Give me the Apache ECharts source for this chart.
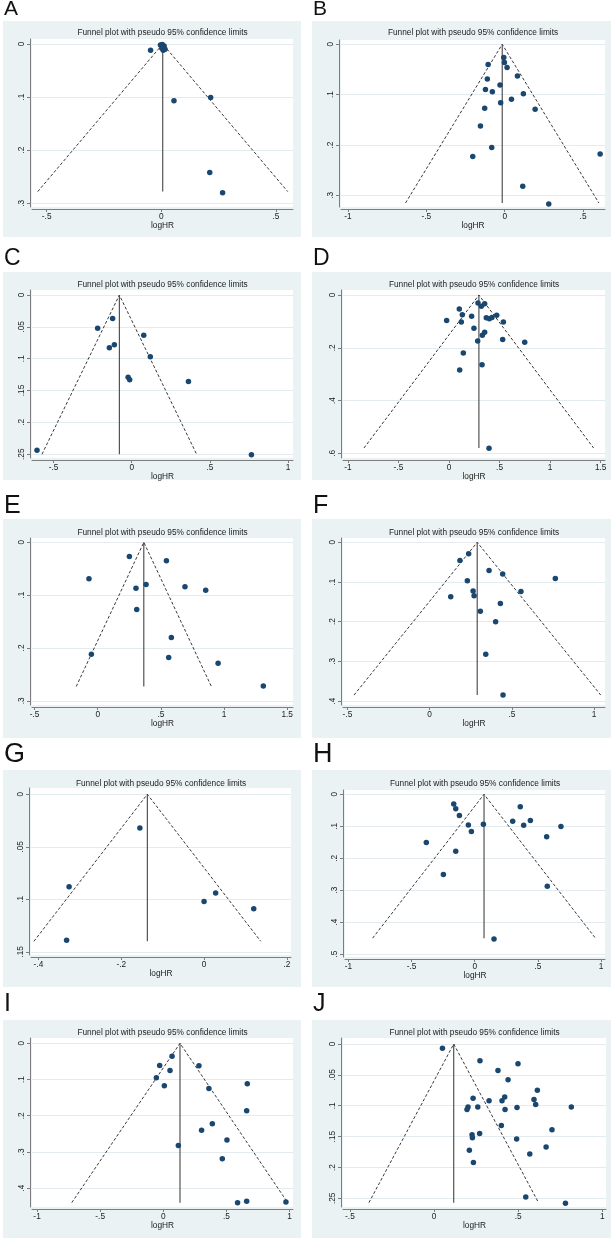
<!DOCTYPE html>
<html>
<head>
<meta charset="utf-8">
<script src="https://cdn.jsdelivr.net/npm/echarts@6/dist/echarts.min.js"></script>
<style>
html, body { margin: 0; padding: 0; background: #fff; }
#main { width: 616px; height: 1239px; }
</style>
</head>
<body>
<div id="main"></div>
<script>
// panel letters
const letters = ['A', 'B', 'C', 'D', 'E', 'F', 'G', 'H', 'I', 'J'];

// studies: [logHR, s.e. of logHR]
const studiesA = [[-0.004, 0.002], [0.004, 0.001], [0.012, 0.004], [0.016, 0.010], [0.008, 0.012],
  [0.002, 0.008], [-0.047, 0.012], [0.055, 0.107], [0.215, 0.101], [0.211, 0.242], [0.267, 0.280]];
const studiesB = [[-0.006, 0.026], [-0.002, 0.036], [0.015, 0.046], [-0.106, 0.040], [0.081, 0.063],
  [-0.111, 0.069], [-0.030, 0.081], [-0.123, 0.090], [-0.079, 0.094], [0.119, 0.098],
  [0.043, 0.109], [-0.026, 0.116], [-0.128, 0.127], [0.194, 0.129], [-0.155, 0.162],
  [-0.083, 0.205], [-0.204, 0.223], [0.609, 0.218], [0.115, 0.282], [0.281, 0.317]];
const studiesC = [[-0.122, 0.037], [-0.218, 0.052], [0.077, 0.063], [-0.111, 0.078], [-0.143, 0.083],
  [0.119, 0.097], [-0.023, 0.129], [-0.013, 0.133], [0.363, 0.136], [-0.606, 0.244], [0.766, 0.251]];
const studiesD = [[0.287, 0.030], [0.320, 0.043], [0.353, 0.033], [0.102, 0.053], [0.132, 0.075],
  [0.224, 0.081], [0.369, 0.086], [0.399, 0.090], [0.425, 0.085], [0.472, 0.077],
  [-0.023, 0.097], [0.122, 0.102], [0.538, 0.102], [0.247, 0.126], [0.353, 0.141],
  [0.330, 0.153], [0.531, 0.169], [0.749, 0.179], [0.284, 0.174], [0.142, 0.220],
  [0.327, 0.264], [0.106, 0.284], [0.396, 0.581]];
const studiesE = [[0.251, 0.027], [0.544, 0.035], [-0.069, 0.069], [0.383, 0.080], [0.303, 0.087],
  [0.691, 0.084], [0.855, 0.091], [0.309, 0.127], [0.583, 0.180], [-0.050, 0.212],
  [0.562, 0.218], [0.953, 0.229], [1.311, 0.272]];
const studiesF = [[0.237, 0.029], [0.184, 0.046], [0.361, 0.071], [0.444, 0.080], [0.764, 0.091],
  [0.229, 0.097], [0.264, 0.123], [0.555, 0.124], [0.128, 0.137], [0.270, 0.135],
  [0.430, 0.154], [0.308, 0.174], [0.401, 0.200], [0.341, 0.282], [0.446, 0.385]];
const studiesG = [[-0.155, 0.032], [-0.326, 0.088], [0.028, 0.094], [0.0, 0.102], [0.120, 0.109],
  [-0.332, 0.139]];
const studiesH = [[-0.166, 0.030], [-0.150, 0.045], [0.361, 0.039], [-0.121, 0.066], [-0.050, 0.096],
  [0.069, 0.094], [0.301, 0.084], [0.388, 0.097], [0.441, 0.082], [0.683, 0.101],
  [-0.026, 0.116], [0.570, 0.133], [-0.383, 0.151], [-0.150, 0.178], [-0.248, 0.251],
  [0.575, 0.288], [0.153, 0.453]];
const studiesI = [[0.069, 0.036], [-0.029, 0.061], [0.053, 0.075], [0.282, 0.062], [-0.055, 0.095],
  [0.008, 0.117], [0.361, 0.125], [0.665, 0.112], [0.660, 0.186], [0.388, 0.222],
  [0.303, 0.240], [0.504, 0.267], [0.119, 0.282], [0.467, 0.319], [0.588, 0.440],
  [0.660, 0.436], [0.971, 0.438]];
const studiesJ = [[0.050, 0.007], [0.273, 0.027], [0.499, 0.032], [0.380, 0.043], [0.440, 0.058],
  [0.614, 0.075], [0.232, 0.088], [0.420, 0.086], [0.404, 0.092], [0.327, 0.092],
  [0.594, 0.090], [0.604, 0.098], [0.202, 0.102], [0.196, 0.106], [0.260, 0.102],
  [0.422, 0.106], [0.493, 0.103], [0.816, 0.102], [0.400, 0.132], [0.701, 0.139],
  [0.271, 0.145], [0.226, 0.147], [0.228, 0.152], [0.491, 0.154], [0.666, 0.167],
  [0.210, 0.172], [0.569, 0.178], [0.234, 0.192], [0.545, 0.248], [0.781, 0.258]];
const studies = [studiesA, studiesB, studiesC, studiesD, studiesE,
  studiesF, studiesG, studiesH, studiesI, studiesJ];

// pooled logHR, largest s.e., and the pseudo 95% limits at that s.e.
const pooled = [0.006, -0.016, -0.079, 0.296, 0.365, 0.289, -0.137, 0.074, 0.132, 0.117];
const seMax = [0.278, 0.315, 0.25, 0.58, 0.273, 0.385, 0.14, 0.45, 0.44, 0.257];
const lowerAtMax = [-0.539, -0.633, -0.574, -0.84, -0.17, -0.46, -0.411, -0.808, -0.725, -0.387];
const upperAtMax = [0.551, 0.601, 0.415, 1.43, 0.90, 1.04, 0.137, 0.956, 0.985, 0.621];

// tick labels
const xTicks = [[-0.5, 0, 0.5], [-1, -0.5, 0, 0.5], [-0.5, 0, 0.5, 1], [-1, -0.5, 0, 0.5, 1, 1.5],
  [-0.5, 0, 0.5, 1, 1.5], [-0.5, 0, 0.5, 1], [-0.4, -0.2, 0, 0.2], [-1, -0.5, 0, 0.5, 1],
  [-1, -0.5, 0, 0.5, 1], [-0.5, 0, 0.5, 1]];
const yTicks = [[0, 0.1, 0.2, 0.3], [0, 0.1, 0.2, 0.3], [0, 0.05, 0.1, 0.15, 0.2, 0.25], [0, 0.2, 0.4, 0.6],
  [0, 0.1, 0.2, 0.3], [0, 0.1, 0.2, 0.3, 0.4], [0, 0.05, 0.1, 0.15], [0, 0.1, 0.2, 0.3, 0.4, 0.5],
  [0, 0.1, 0.2, 0.3, 0.4], [0, 0.05, 0.1, 0.15, 0.2, 0.25]];
const xRange = [[-0.564, 0.574], [-1.045, 0.640], [-0.638, 1.032], [-1.048, 1.543], [-0.520, 1.546],
  [-0.527, 1.066], [-0.418, 0.210], [-1.027, 1.032], [-1.040, 1.027], [-0.541, 1.022]];
const yRange = [[-0.0094, 0.307], [-0.0085, 0.323], [-0.0079, 0.256], [-0.019, 0.618], [-0.0081, 0.308],
  [-0.0108, 0.410], [-0.006, 0.153], [-0.0135, 0.509], [-0.0146, 0.452], [-0.0097, 0.264]];

// layout: white plot boxes [left, top, right, bottom], grey panel rows, columns
const plotBoxes = [
  [32, 39, 293, 207], [341, 40, 605, 207],
  [32, 290, 293, 458], [343, 290, 605, 458],
  [32, 538, 293, 705], [343, 538, 605, 705],
  [31, 788, 291, 955], [345, 790, 605, 957],
  [32, 1038, 293, 1207], [343, 1038, 606, 1207]
];
const panelRows = [[21, 237], [272, 480], [519, 738], [770, 987], [1020, 1238]];
const panelCols = [[3, 301], [312, 611]];
const letterTop = [-1, 247, 494, 741, 992];
const letterSize = [21, 23, 25, 27, 25];
const titleY = [33, 285, 533, 784, 1033];

const FONT = '"Liberation Sans", Arial, sans-serif';
const NAVY = '#1a476f';
const AXIS = '#7d7d7d';

// stata style: drop the leading zero
const fmt = v => String(v).replace('0.', '.');

const chart = echarts.init(document.getElementById('main'));

const grid = [], xAxis = [], yAxis = [], series = [], graphic = [];

panelRows.forEach((r, ri) => {
    panelCols.forEach((c, ci) => {
        graphic.push({
            type: 'rect', z: -10,
            shape: { x: c[0], y: r[0], width: c[1] - c[0], height: r[1] - r[0] },
            style: { fill: '#eaf2f3' }
        });
        graphic.push({
            type: 'text', z: 5,
            x: c[0] + 1, y: letterTop[ri],
            style: { text: letters[ri * 2 + ci], fontSize: letterSize[ri], fontFamily: FONT, fill: '#111' }
        });
    });
});

letters.forEach((l, i) => {
    const b = plotBoxes[i];
    const row = Math.floor(i / 2);
    graphic.push({
        type: 'rect', z: -5,
        shape: { x: b[0], y: b[1], width: b[2] - b[0], height: b[3] - b[1] },
        style: { fill: '#ffffff' }
    });
    graphic.push({
        type: 'text', z: 5,
        x: (b[0] + b[2]) / 2, y: titleY[row],
        style: {
            text: 'Funnel plot with pseudo 95% confidence limits',
            fontSize: 8.3, fontFamily: FONT, fill: '#222',
            align: 'center', verticalAlign: 'middle'
        }
    });

    grid.push({ left: b[0], top: b[1], width: b[2] - b[0], height: b[3] - b[1] });

    xAxis.push({
        gridIndex: i, type: 'value',
        min: xRange[i][0], max: xRange[i][1], offset: 2,
        axisLine: { show: true, onZero: false, lineStyle: { color: AXIS, width: 1 } },
        axisTick: { show: true, length: 3, customValues: xTicks[i], lineStyle: { color: AXIS } },
        axisLabel: { customValues: xTicks[i], formatter: fmt, fontSize: 8.3, fontFamily: FONT, color: '#222', margin: 4 },
        splitLine: { show: false },
        name: 'logHR', nameLocation: 'middle', nameGap: 13,
        nameTextStyle: { fontSize: 8.3, fontFamily: FONT, color: '#222' }
    });

    yAxis.push({
        gridIndex: i, type: 'value', inverse: true,
        min: yRange[i][0], max: yRange[i][1], offset: 2,
        axisLine: { show: true, onZero: false, lineStyle: { color: AXIS, width: 1 } },
        axisTick: { show: true, length: 3, customValues: yTicks[i], lineStyle: { color: AXIS } },
        axisLabel: { customValues: yTicks[i], formatter: fmt, rotate: 90, fontSize: 8.3, fontFamily: FONT, color: '#222', margin: 4 },
        splitLine: { show: true, lineStyle: { color: '#e3ebee', width: 1 } }
    });

    // pseudo 95% confidence limits
    series.push({
        type: 'line', xAxisIndex: i, yAxisIndex: i,
        data: [[lowerAtMax[i], seMax[i]], [pooled[i], 0], [upperAtMax[i], seMax[i]]],
        symbol: 'none', silent: true, z: 2,
        lineStyle: { color: '#222', width: 0.9, type: [3, 2] }
    });
    // pooled estimate
    series.push({
        type: 'line', xAxisIndex: i, yAxisIndex: i,
        data: [[pooled[i], 0], [pooled[i], seMax[i]]],
        symbol: 'none', silent: true, z: 2,
        lineStyle: { color: '#444', width: 1.1 }
    });
    series.push({
        type: 'scatter', xAxisIndex: i, yAxisIndex: i,
        data: studies[i], symbolSize: 5.5, z: 3,
        itemStyle: { color: NAVY, opacity: 1 }
    });
});

chart.setOption({
    animation: false,
    backgroundColor: '#ffffff',
    grid, xAxis, yAxis, series, graphic
});
</script>
</body>
</html>
